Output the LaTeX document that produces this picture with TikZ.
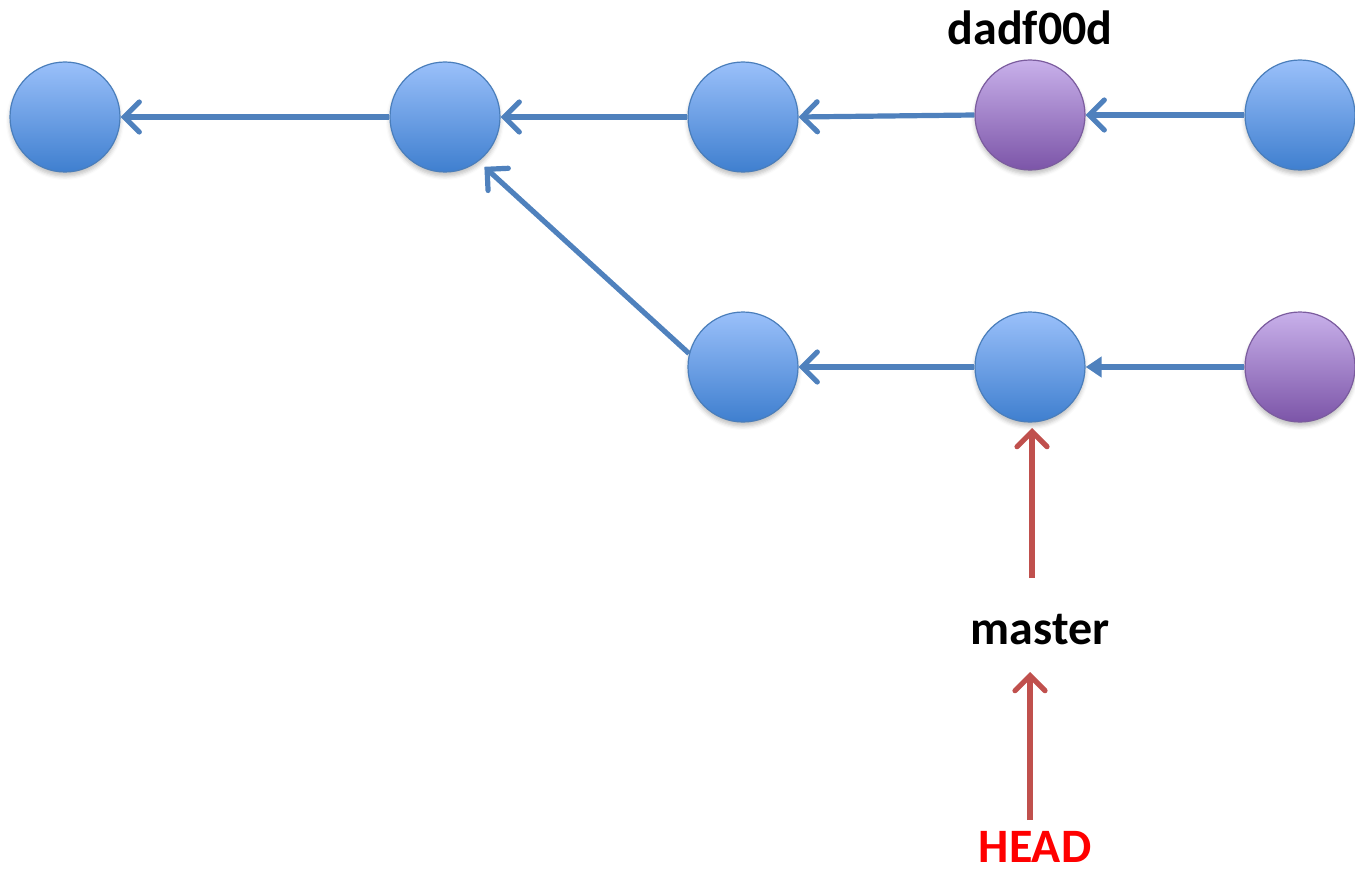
\documentclass[tikz,border=0pt]{standalone}
\usepackage{fontspec}
\setmainfont{Carlito}
\usetikzlibrary{arrows.meta,shadows.blur}
\definecolor{bluetop}{HTML}{9AC0FA}
\definecolor{bluebot}{HTML}{3F7FCF}
\definecolor{blueedge}{HTML}{4A7EBB}
\definecolor{purtop}{HTML}{C8B0EA}
\definecolor{purbot}{HTML}{7C55A8}
\definecolor{puredge}{HTML}{7B5C9E}
\definecolor{arrblue}{HTML}{4F81BD}
\definecolor{arrred}{HTML}{C0504D}
\tikzset{
  commit/.style={circle, minimum size=110pt, inner sep=0pt, draw=blueedge, line width=1.2pt,
    top color=bluetop, bottom color=bluebot,
    blur shadow={shadow xshift=0pt, shadow yshift=-4pt, shadow blur radius=4pt, shadow opacity=25}},
  pcommit/.style={commit, draw=puredge, top color=purtop, bottom color=purbot},
  link/.style={draw=arrblue, line width=5.2pt, -{Straight Barb[length=15pt,width=30pt,line cap=round]}},
  flink/.style={draw=arrblue, line width=5.2pt, -{Triangle[length=16pt,width=20pt]}},
  rlink/.style={draw=arrred, line width=5.2pt, -{Straight Barb[length=15pt,width=30pt,line cap=round]}},
  lbl/.style={font=\bfseries\fontsize{48}{56}\selectfont, inner sep=0pt}
}
\begin{document}
\begin{tikzpicture}[x=1pt,y=-1pt]
\useasboundingbox (0,0) rectangle (1355,872);
\node[commit] (a) at (65,117) {};
\node[commit] (b) at (445,117) {};
\node[commit] (c) at (743,117) {};
\node[pcommit] (d) at (1030,115) {};
\node[commit] (e) at (1300,115) {};
\node[commit] (f) at (743,367) {};
\node[commit] (g) at (1030,367) {};
\node[pcommit] (h) at (1300,367) {};
\node[lbl] (dl) at (1030,28) {dadf00d};
\node[lbl] (ml) at (1040,630) {master};
\node[lbl, text={rgb,255:red,255;green,0;blue,0}] (hl) at (1035,847) {HEAD};
\coordinate (mtop) at (1032,428);
\coordinate (mbot) at (1032,578);
\coordinate (htop) at (1030,672);
\coordinate (hbot) at (1030,820);
\draw[link] (e.west) -- (d.east);
\draw[link] (d.west) -- (c.east);
\draw[link] (c.west) -- (b.east);
\draw[link] (b.west) -- (a.east);
\draw[flink] (h.west) -- (g.east);
\draw[link] (g.west) -- (f.east);
\draw[link, shorten >=8pt] (f.166) -- (b.-53);
\draw[rlink] (mbot) -- (mtop);
\draw[rlink] (hbot) -- (htop);
\end{tikzpicture}
\end{document}
